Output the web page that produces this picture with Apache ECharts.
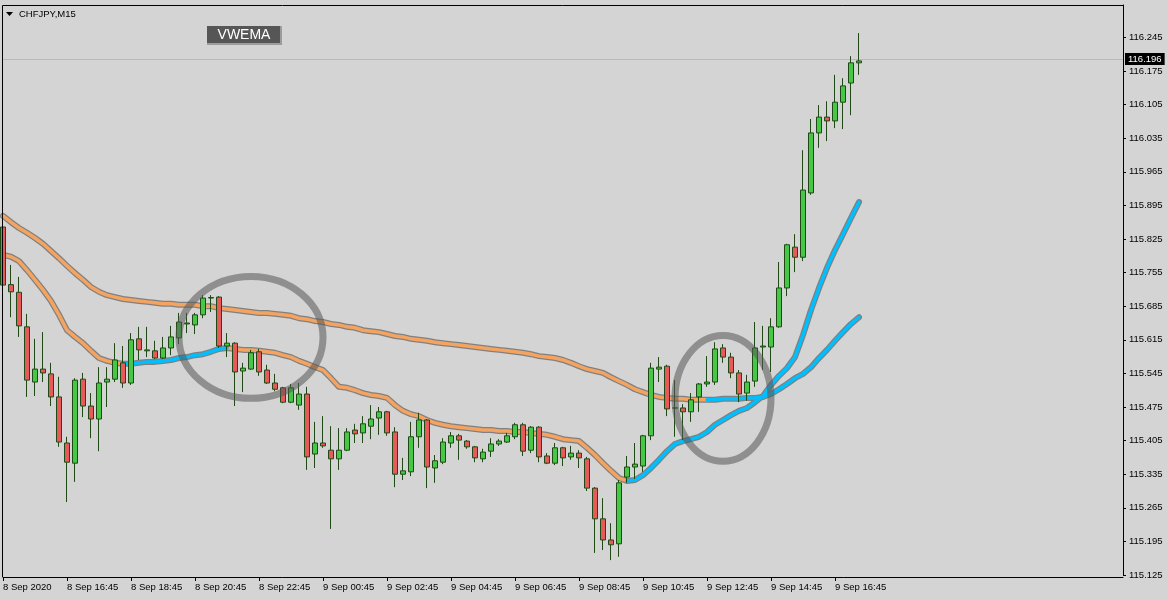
<!DOCTYPE html>
<html><head><meta charset="utf-8">
<script src="https://cdn.jsdelivr.net/npm/echarts@6/dist/echarts.min.js"></script>
<style>html,body{margin:0;padding:0;background:#d4d4d4;overflow:hidden}#c{width:1168px;height:600px}</style>
</head><body><div id="c"></div><script>
const symbolTitle = 'CHFJPY,M15';
const indicatorName = 'VWEMA';
const tickLabels = ['8 Sep 2020','8 Sep 16:45','8 Sep 18:45','8 Sep 20:45','8 Sep 22:45','9 Sep 00:45','9 Sep 02:45','9 Sep 04:45','9 Sep 06:45','9 Sep 08:45','9 Sep 10:45','9 Sep 12:45','9 Sep 14:45','9 Sep 16:45'];
const opens = [115.850,115.730,115.714,115.642,115.527,115.554,115.544,115.496,115.400,115.358,115.533,115.477,115.450,115.527,115.533,115.567,115.525,115.617,115.592,115.592,115.577,115.598,115.619,115.648,115.646,115.667,115.702,115.704,115.602,115.608,115.550,115.554,115.590,115.552,115.525,115.515,115.485,115.479,115.502,115.377,115.400,115.385,115.367,115.385,115.427,115.421,115.435,115.452,115.465,115.423,115.335,115.340,115.413,115.448,115.348,115.360,115.400,115.415,115.404,115.392,115.367,115.383,115.398,115.402,115.413,115.438,115.385,115.433,115.373,115.358,115.390,115.371,115.379,115.367,115.306,115.242,115.198,115.190,115.329,115.350,115.352,115.415,115.554,115.560,115.473,115.473,115.465,115.496,115.523,115.527,115.598,115.579,115.546,115.504,115.529,115.600,115.600,115.642,115.723,115.808,115.787,115.921,116.046,116.079,116.071,116.110,116.150,116.192];
const closes = [115.729,115.715,115.644,115.531,115.554,115.546,115.496,115.402,115.360,115.531,115.477,115.450,115.525,115.533,115.573,115.525,115.615,115.594,115.594,115.577,115.598,115.621,115.652,115.650,115.667,115.702,115.703,115.602,115.608,115.548,115.556,115.588,115.548,115.525,115.512,115.485,115.515,115.502,115.371,115.400,115.394,115.367,115.385,115.423,115.419,115.440,115.450,115.465,115.421,115.335,115.342,115.413,115.448,115.350,115.363,115.402,115.415,115.406,115.392,115.369,115.381,115.398,115.404,115.415,115.438,115.383,115.433,115.371,115.358,115.390,115.369,115.379,115.369,115.306,115.242,115.198,115.188,115.317,115.350,115.356,115.415,115.556,115.558,115.471,115.473,115.465,115.490,115.523,115.527,115.596,115.579,115.546,115.502,115.527,115.598,115.602,115.642,115.723,115.813,115.787,115.927,116.046,116.079,116.071,116.110,116.144,116.192,116.196];
const lows = [115.715,115.662,115.621,115.496,115.498,115.527,115.477,115.392,115.277,115.319,115.454,115.410,115.383,115.475,115.527,115.515,115.521,115.573,115.579,115.575,115.575,115.583,115.606,115.629,115.627,115.660,115.673,115.598,115.579,115.477,115.506,115.552,115.540,115.523,115.508,115.483,115.483,115.469,115.344,115.348,115.390,115.221,115.344,115.383,115.400,115.400,115.408,115.417,115.415,115.308,115.323,115.331,115.390,115.306,115.317,115.356,115.390,115.365,115.388,115.360,115.360,115.371,115.394,115.400,115.408,115.373,115.379,115.360,115.356,115.354,115.352,115.365,115.348,115.300,115.171,115.177,115.156,115.163,115.317,115.325,115.340,115.406,115.527,115.456,115.413,115.406,115.444,115.465,115.517,115.521,115.567,115.535,115.485,115.488,115.517,115.552,115.548,115.640,115.706,115.756,115.779,115.917,116.015,116.029,116.056,116.054,116.083,116.167];
const highs = [115.865,115.771,115.746,115.669,115.617,115.631,115.567,115.538,115.413,115.535,115.546,115.504,115.558,115.558,115.608,115.602,115.629,115.642,115.642,115.613,115.621,115.644,115.671,115.671,115.671,115.708,115.708,115.706,115.629,115.610,115.567,115.594,115.596,115.563,115.544,115.517,115.523,115.525,115.517,115.444,115.456,115.435,115.431,115.431,115.440,115.456,115.479,115.475,115.467,115.433,115.369,115.444,115.463,115.450,115.375,115.410,115.423,115.419,115.406,115.394,115.388,115.410,115.408,115.421,115.442,115.442,115.435,115.435,115.379,115.400,115.392,115.394,115.385,115.371,115.308,115.285,115.233,115.323,115.373,115.400,115.417,115.567,115.579,115.563,115.531,115.481,115.504,115.525,115.581,115.610,115.606,115.588,115.552,115.542,115.652,115.644,115.660,115.777,115.815,115.835,116.010,116.075,116.104,116.112,116.167,116.160,116.206,116.254];
const slowVwema = [115.873,115.860,115.848,115.838,115.827,115.815,115.800,115.785,115.769,115.754,115.740,115.725,115.715,115.708,115.704,115.700,115.698,115.696,115.694,115.692,115.690,115.690,115.688,115.688,115.688,115.685,115.685,115.681,115.679,115.677,115.675,115.673,115.671,115.671,115.669,115.667,115.665,115.660,115.658,115.654,115.652,115.648,115.646,115.642,115.640,115.635,115.633,115.631,115.627,115.623,115.621,115.617,115.615,115.613,115.610,115.608,115.606,115.604,115.602,115.600,115.598,115.596,115.594,115.592,115.590,115.588,115.585,115.581,115.579,115.577,115.573,115.567,115.560,115.554,115.550,115.546,115.537,115.529,115.521,115.512,115.506,115.500,115.496,115.494,115.492,115.492,115.490,115.490,115.490,115.490,115.492,115.492,115.492,115.494,115.494,115.496,115.502,115.512,115.523,115.535,115.544,115.558,115.577,115.594,115.613,115.631,115.648,115.662];
const fastVwema = [115.792,115.788,115.779,115.760,115.740,115.719,115.696,115.667,115.635,115.621,115.608,115.592,115.577,115.571,115.567,115.565,115.565,115.567,115.569,115.569,115.571,115.573,115.577,115.579,115.583,115.585,115.590,115.596,115.598,115.596,115.594,115.594,115.592,115.590,115.588,115.583,115.579,115.571,115.565,115.558,115.552,115.535,115.517,115.515,115.510,115.504,115.500,115.498,115.494,115.479,115.467,115.460,115.456,115.448,115.442,115.438,115.435,115.433,115.431,115.429,115.427,115.427,115.425,115.425,115.423,115.423,115.421,115.419,115.417,115.413,115.408,115.406,115.404,115.390,115.375,115.358,115.342,115.327,115.321,115.323,115.333,115.348,115.365,115.383,115.398,115.404,115.408,115.413,115.423,115.438,115.448,115.458,115.467,115.473,115.485,115.498,115.521,115.540,115.556,115.579,115.625,115.677,115.723,115.765,115.802,115.835,115.869,115.902];
// bar-index ranges where each line is drawn in its "rising" colour (blue) / "falling" colour (orange)
const slowOrangeRanges = [[0, 88]], slowBlueRanges = [[88, 107]];
const fastOrangeRanges = [[0, 15], [28, 78]], fastBlueRanges = [[15, 28], [78, 107]];
const lastPrice = 116.196;
// annotation rings: [centre bar index, centre price, half-width in bars, half-height in price]
const rings = [[31.3, 115.620, 8.4, 0.127], [90.4, 115.493, 5.45, 0.131]];

const ORANGE = '#f4a460', BLUE = '#00bfff', OUTLINE = '#808080';
const FONT = '"Liberation Sans", Arial, sans-serif';
const totalSlots = 141;
const months = ['Jan','Feb','Mar','Apr','May','Jun','Jul','Aug','Sep','Oct','Nov','Dec'];
const cats = [];
const t0 = Date.UTC(2020, 8, 8, 14, 45);
for (let i = 0; i < totalSlots; i++) {
  const d = new Date(t0 + i * 15 * 60000);
  cats.push(d.getUTCDate() + ' ' + months[d.getUTCMonth()] + ' ' + String(d.getUTCHours()).padStart(2,'0') + ':' + String(d.getUTCMinutes()).padStart(2,'0'));
}
const candleData = opens.map((o, i) => [o, closes[i], lows[i], highs[i]]);
const inRanges = (arr, ranges) => arr.map((v, i) => ranges.some(r => i >= r[0] && i <= r[1]) ? v : null);
const lastTickIdx = (tickLabels.length - 1) * 8;
const isTick = (i) => i % 8 === 0 && i <= lastTickIdx;

const lineSeries = (data, color, width, z) => ({type: 'line', data: data, symbol: 'none', silent: true, z: z,
  connectNulls: false, lineStyle: {color: color, width: width, cap: 'round', join: 'round'}});

const chart = echarts.init(document.getElementById('c'), null, {renderer: 'canvas'});
chart.setOption({
  animation: false,
  backgroundColor: '#d4d4d4',
  grid: {left: 3, right: 45, top: 5, bottom: 25, containLabel: false},
  xAxis: {
    type: 'category', data: cats, boundaryGap: false, offset: 2,
    axisLine: {lineStyle: {color: '#000', width: 1}},
    axisTick: {show: true, interval: (i) => isTick(i), length: 4, lineStyle: {color: '#000'}},
    axisLabel: {interval: (i) => isTick(i), formatter: (v, i) => tickLabels[i / 8] || '', align: 'left', margin: 5,
      color: '#000', fontSize: 9.5, fontFamily: FONT},
    splitLine: {show: false}
  },
  yAxis: {
    type: 'value', position: 'right', min: 115.125, max: 116.3125, interval: 0.07,
    axisLine: {show: true, lineStyle: {color: '#000', width: 1}},
    axisTick: {show: true, length: 3, lineStyle: {color: '#000'}},
    axisLabel: {formatter: (v) => v.toFixed(3), showMaxLabel: false, margin: 6, color: '#000', fontSize: 9.5, fontFamily: FONT},
    splitLine: {show: false}
  },
  series: [
    lineSeries(slowVwema, OUTLINE, 6, 1),
    lineSeries(fastVwema, OUTLINE, 6, 1),
    lineSeries(inRanges(slowVwema, slowOrangeRanges), ORANGE, 3.5, 2),
    lineSeries(inRanges(slowVwema, slowBlueRanges), BLUE, 3.5, 2),
    lineSeries(inRanges(fastVwema, fastOrangeRanges), ORANGE, 3.5, 2),
    lineSeries(inRanges(fastVwema, fastBlueRanges), BLUE, 3.5, 2),
    {type: 'candlestick', data: candleData, barWidth: 5, clip: false, z: 3,
     itemStyle: {color: '#46c846', color0: '#e65a5a', borderColor: '#1f4a16', borderColor0: '#1f4a16', borderColorDoji: '#1f4a16', borderWidth: 1},
     markLine: {symbol: 'none', silent: true, z: 0, data: [{yAxis: lastPrice}],
       lineStyle: {color: '#b9b9b9', width: 1, type: 'solid'},
       label: {show: true, position: 'end', distance: 2, formatter: lastPrice.toFixed(3), backgroundColor: '#000', color: '#fff',
         padding: [1, 3, 1, 3], fontSize: 9.5, fontFamily: FONT}}}
  ]
});

const graphics = [
  {type: 'line', shape: {x1: 2.5, y1: 5.5, x2: 2.5, y2: 577}, style: {stroke: '#000', lineWidth: 1}, z: 50},
  {type: 'line', shape: {x1: 2.5, y1: 5.5, x2: 1123, y2: 5.5}, style: {stroke: '#000', lineWidth: 1}, z: 50},
  {type: 'polygon', shape: {points: [[6, 12], [13, 12], [9.5, 16]]}, style: {fill: '#000'}, z: 50},
  {type: 'text', left: 19, top: 9, style: {text: symbolTitle, fill: '#000', font: '9.5px ' + FONT}, z: 50},
  {type: 'rect', shape: {x: 207, y: 26, width: 75, height: 19}, style: {fill: '#9c9c9c'}, z: 50},
  {type: 'rect', shape: {x: 207, y: 26, width: 73, height: 17}, style: {fill: '#565656'}, z: 51},
  {type: 'text', x: 244, y: 35.5, style: {text: indicatorName, fill: '#fff', font: '14px ' + FONT, textAlign: 'center', textVerticalAlign: 'middle'}, z: 52}
];
rings.forEach((r) => {
  const c = chart.convertToPixel({gridIndex: 0}, [r[0], r[1]]);
  const e = chart.convertToPixel({gridIndex: 0}, [r[0] + r[2], r[1] + r[3]]);
  graphics.push({type: 'ellipse', shape: {cx: c[0], cy: c[1], rx: Math.abs(e[0] - c[0]), ry: Math.abs(c[1] - e[1])},
    style: {fill: 'none', stroke: 'rgba(85,85,85,0.55)', lineWidth: 7}, z: 60});
});
chart.setOption({graphic: graphics});
</script></body></html>
